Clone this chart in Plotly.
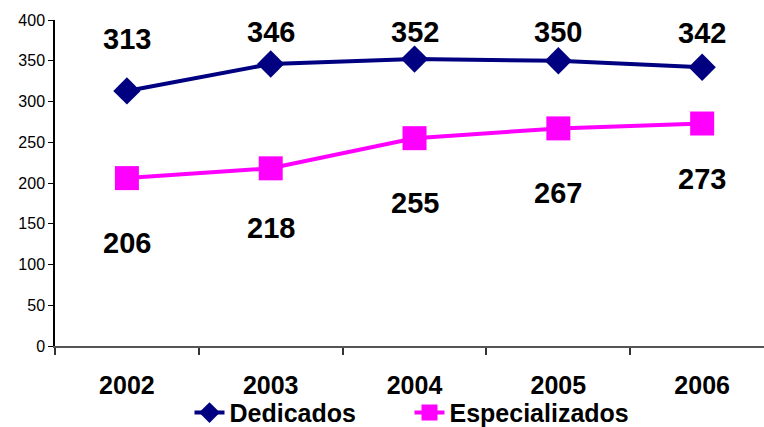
import plotly.graph_objects as go

years = ["2002", "2003", "2004", "2005", "2006"]
dedicados = [313, 346, 352, 350, 342]
especializados = [206, 218, 255, 267, 273]

# label offsets (pixels) used for data labels
ded_shift = [52, 32, 27, 29, 34]
esp_shift = [-65, -60, -65, -65, -55]

xpos = list(range(len(years)))
FONT = "Liberation Sans, Arial, sans-serif"

fig = go.Figure()
fig.add_trace(go.Scatter(
    x=xpos, y=dedicados, name="Dedicados", mode="lines+markers",
    line=dict(color="#000080", width=4),
    marker=dict(symbol="diamond", size=21, color="#000080"),
))
fig.add_trace(go.Scatter(
    x=xpos, y=especializados, name="Especializados", mode="lines+markers",
    line=dict(color="#FF00FF", width=4),
    marker=dict(symbol="square", size=24, color="#FF00FF"),
))

for xi, v, s in zip(xpos, dedicados, ded_shift):
    fig.add_annotation(x=xi, y=v, text=str(v), showarrow=False, yshift=s,
                       font=dict(family=FONT, size=29, color="black", weight="bold"))
for xi, v, s in zip(xpos, especializados, esp_shift):
    fig.add_annotation(x=xi, y=v, text=str(v), showarrow=False, yshift=s,
                       font=dict(family=FONT, size=29, color="black", weight="bold"))

fig.update_layout(
    width=764, height=427,
    margin=dict(l=55, r=0, t=20, b=81, autoexpand=False),
    paper_bgcolor="white", plot_bgcolor="white",
    font=dict(family=FONT, color="black"),
    showlegend=True,
    legend=dict(orientation="h", x=0.5, xanchor="center", y=-0.205, yanchor="middle",
                font=dict(family=FONT, size=25, color="black", weight="bold"),
                bgcolor="rgba(0,0,0,0)", entrywidth=175, tracegroupgap=0),
    xaxis=dict(
        range=[-0.5, 4.43], tickvals=xpos, ticktext=years,
        showgrid=False, zeroline=False, showline=True, linecolor="#555555", linewidth=1.5,
        ticks="", ticklabelstandoff=16,
        tickfont=dict(family=FONT, size=25, color="black", weight="bold"),
        minor=dict(tickvals=[-0.5, 0.5, 1.5, 2.5, 3.5, 4.5], ticks="outside", ticklen=7,
                   tickcolor="#333333", tickwidth=1.5, showgrid=False),
    ),
    yaxis=dict(
        range=[0, 400], dtick=50, showgrid=False, zeroline=False,
        showline=True, linecolor="black", linewidth=1.5,
        ticks="outside", ticklen=5, tickcolor="black", tickwidth=1,
        tickfont=dict(family=FONT, size=16, color="black"),
    ),
)

fig.write_html("out.html")
